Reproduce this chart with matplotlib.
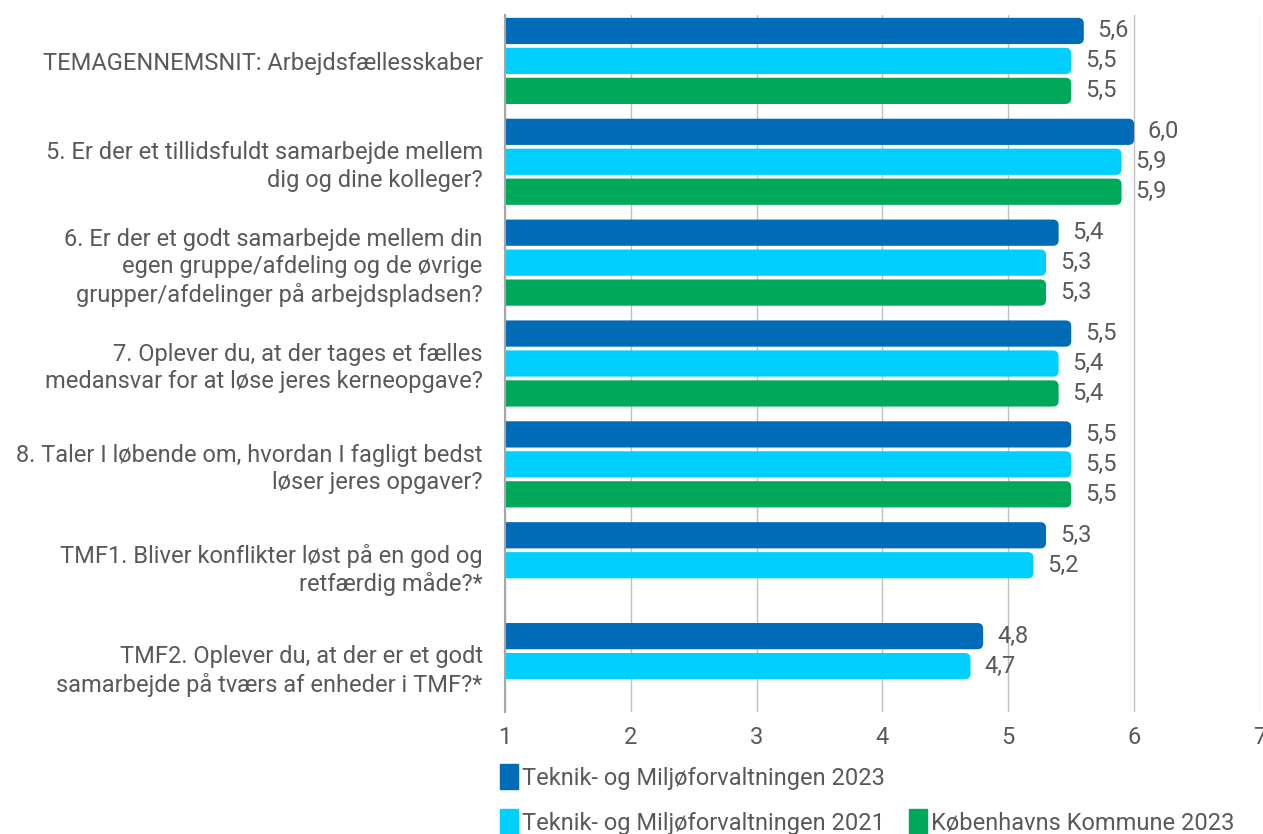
import numpy as np
import matplotlib.pyplot as plt
from matplotlib.patches import Patch, FancyBboxPatch

plt.rcParams['font.family'] = ['Roboto', 'DejaVu Sans']

categories = [
    "TEMAGENNEMSNIT: Arbejdsfællesskaber",
    "5. Er der et tillidsfuldt samarbejde mellem\ndig og dine kolleger?",
    "6. Er der et godt samarbejde mellem din\negen gruppe/afdeling og de øvrige\ngrupper/afdelinger på arbejdspladsen?",
    "7. Oplever du, at der tages et fælles\nmedansvar for at løse jeres kerneopgave?",
    "8. Taler I løbende om, hvordan I fagligt bedst\nløser jeres opgaver?",
    "TMF1. Bliver konflikter løst på en god og\nretfærdig måde?*",
    "TMF2. Oplever du, at der er et godt\nsamarbejde på tværs af enheder i TMF?*",
]
tmf_2023 = [5.6, 6.0, 5.4, 5.5, 5.5, 5.3, 4.8]
tmf_2021 = [5.5, 5.9, 5.3, 5.4, 5.5, 5.2, 4.7]
kk_2023 = [5.5, 5.9, 5.3, 5.4, 5.5, np.nan, np.nan]

series = [
    ("Teknik- og Miljøforvaltningen 2023", tmf_2023, "#006CB7"),
    ("Teknik- og Miljøforvaltningen 2021", tmf_2021, "#00CFFF"),
    ("Københavns Kommune 2023", kk_2023, "#00A85A"),
]

fig = plt.figure(figsize=(12.63, 8.34), dpi=100)
ax = fig.add_axes([0.3998, 0.1463, 0.5978, 0.8357])

y = np.arange(len(categories))
step = 0.297
h = 0.26
txt = "#595959"

# bars with rounded right end (left end is clipped at x=1)
for i, (name, vals, col) in enumerate(series):
    vals = np.array(vals, dtype=float)
    pos = y + (i - 1) * step
    ok = ~np.isnan(vals)
    for p, v in zip(pos[ok], vals[ok]):
        bar = FancyBboxPatch((0.95, p - h / 2), v - 0.95, h,
                             boxstyle="round,pad=0,rounding_size=0.045",
                             mutation_aspect=1.25, facecolor=col,
                             edgecolor="none", zorder=3)
        ax.add_patch(bar)
        ax.text(v + 0.11, p, f"{v:.1f}".replace(".", ","), va="center",
                ha="left", fontsize=17, color=txt, zorder=4)

ax.set_xlim(1, 7)
ax.set_ylim(6.455, -0.455)
ax.set_xticks(range(1, 8))
ax.set_yticks(y)
ax.set_yticklabels(categories, fontsize=17, color=txt, linespacing=1.25)
ax.tick_params(axis="x", length=0, pad=10, labelsize=17, labelcolor=txt)
ax.tick_params(axis="y", length=0, pad=16)
ax.grid(axis="x", color="#BFBFBF", linewidth=1, zorder=0)
for s in ["top", "right", "bottom"]:
    ax.spines[s].set_visible(False)
ax.spines["left"].set_color("#A6A6A6")
ax.spines["left"].set_linewidth(1.5)
ax.spines["left"].set_zorder(5)

handles = [Patch(facecolor=c, edgecolor=c, label=n) for n, _, c in series]
kw = dict(frameon=False, fontsize=17, handlelength=0.75, handleheight=1.2,
          handletextpad=0.2, borderpad=0, borderaxespad=0, labelcolor=txt)
fig.legend(handles=[handles[0]], loc="center left",
           bbox_to_anchor=(500 / 1263, 1 - 777 / 834), **kw)
fig.legend(handles=handles[1:], loc="center left", ncol=2, columnspacing=1.0,
           bbox_to_anchor=(500 / 1263, 1 - 822 / 834), **kw)

fig.savefig("out.png", dpi=100)
